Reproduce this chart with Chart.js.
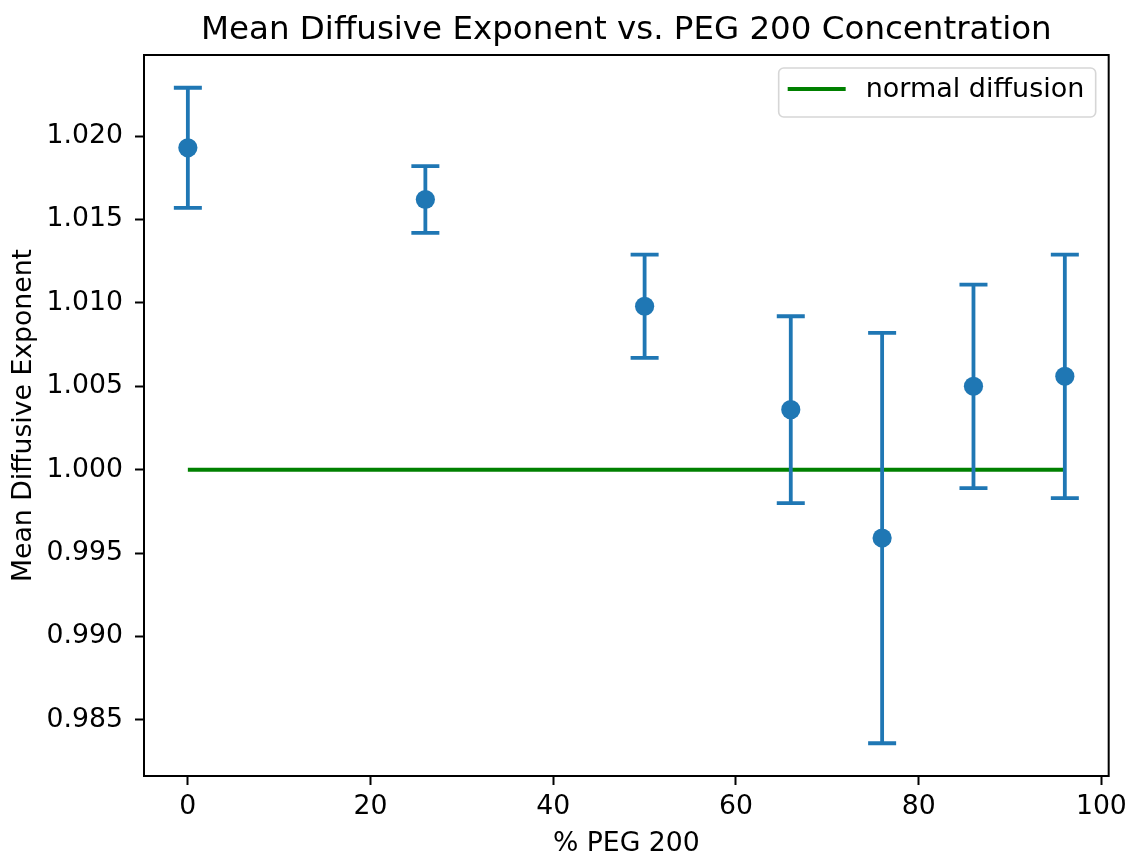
<!DOCTYPE html>
<html>
<head>
<meta charset="utf-8">
<script src="https://cdn.jsdelivr.net/npm/chart.js@4.4.1/dist/chart.umd.min.js"></script>
<style>
  html, body { margin: 0; padding: 0; background: #fff; }
  #wrap { width: 1133px; height: 857px; }
</style>
</head>
<body>
<div id="wrap"><canvas id="diffChart" width="1133" height="857"></canvas></div>
<script>
// data
const pegPercent = [0, 26, 50, 66, 76, 86, 96];
const meanExponent = [1.0193, 1.0162, 1.0098, 1.0036, 0.9959, 1.0050, 1.0056];
const exponentErr = [0.0036, 0.0020, 0.0031, 0.0056, 0.0123, 0.0061, 0.0073];
const normalLineX = [0, 96];
const normalLineY = [1.0, 1.0];
const xTicks = [0, 20, 40, 60, 80, 100];
const yTicks = [0.985, 0.990, 0.995, 1.000, 1.005, 1.010, 1.015, 1.020];

const blue = "#1f77b4";
const green = "#008000";
const fontFamily = "'DejaVu Sans', sans-serif";
const titleText = "Mean Diffusive Exponent vs. PEG 200 Concentration";

// matplotlib style 5% margins
const xLo = Math.min(...pegPercent), xHi = Math.max(...pegPercent);
const yLo = Math.min(...meanExponent.map((v, i) => v - exponentErr[i]));
const yHi = Math.max(...meanExponent.map((v, i) => v + exponentErr[i]));
const xPad = (xHi - xLo) * 0.05, yPad = (yHi - yLo) * 0.05;

// error bars, drawn right after the green line so markers sit on top
const errorBars = {
    id: "errorBars",
    afterDatasetDraw(chart, args) {
        if (args.index !== 0) return;
        const ctx = chart.ctx;
        const xs = chart.scales.x, ys = chart.scales.y;
        ctx.save();
        ctx.strokeStyle = blue;
        ctx.lineWidth = 3.8;
        ctx.lineCap = "butt";
        pegPercent.forEach((p, i) => {
            const px = xs.getPixelForValue(p);
            const top = ys.getPixelForValue(meanExponent[i] + exponentErr[i]);
            const bot = ys.getPixelForValue(meanExponent[i] - exponentErr[i]);
            ctx.beginPath();
            ctx.moveTo(px, top);
            ctx.lineTo(px, bot);
            ctx.moveTo(px - 14, top);
            ctx.lineTo(px + 14, top);
            ctx.moveTo(px - 14, bot);
            ctx.lineTo(px + 14, bot);
            ctx.stroke();
        });
        ctx.restore();
    }
};

// title over the plot area, axes frame and legend box
const frameAndLegend = {
    id: "frameAndLegend",
    afterDraw(chart) {
        const ctx = chart.ctx;
        const a = chart.chartArea;
        ctx.save();
        ctx.fillStyle = "#000";
        ctx.font = "32.5px " + fontFamily;
        ctx.textAlign = "center";
        ctx.textBaseline = "alphabetic";
        ctx.fillText(titleText, (a.left + a.right) / 2, 39);

        ctx.strokeStyle = "#000";
        ctx.lineWidth = 2;
        ctx.strokeRect(a.left, a.top, a.right - a.left, a.bottom - a.top);

        // legend
        const bx = a.right - 330, by = a.top + 13, bw = 317, bh = 49;
        ctx.beginPath();
        ctx.roundRect(bx, by, bw, bh, 5);
        ctx.fillStyle = "rgba(255,255,255,0.8)";
        ctx.fill();
        ctx.strokeStyle = "#d6d6d6";
        ctx.lineWidth = 1.6;
        ctx.stroke();
        ctx.strokeStyle = green;
        ctx.lineWidth = 4;
        ctx.beginPath();
        ctx.moveTo(bx + 9, by + 21);
        ctx.lineTo(bx + 67, by + 21);
        ctx.stroke();
        ctx.fillStyle = "#000";
        ctx.font = "27px " + fontFamily;
        ctx.textAlign = "left";
        ctx.textBaseline = "middle";
        ctx.fillText(chart.data.datasets[0].label, bx + 87, by + 22);
        ctx.restore();
    }
};

new Chart(document.getElementById("diffChart"), {
    type: "scatter",
    data: {
        datasets: [
            {
                label: "normal diffusion",
                type: "line",
                data: normalLineX.map((x, i) => ({ x: x, y: normalLineY[i] })),
                borderColor: green,
                borderWidth: 4,
                pointRadius: 0,
                order: 2
            },
            {
                label: "mean exponent",
                data: pegPercent.map((x, i) => ({ x: x, y: meanExponent[i] })),
                backgroundColor: blue,
                borderWidth: 0,
                pointRadius: 9.6,
                order: 1
            }
        ]
    },
    options: {
        responsive: false,
        animation: false,
        layout: { padding: { left: 0, right: 21, top: 55, bottom: 0 } },
        plugins: {
            legend: { display: false },
            tooltip: { enabled: false },
            title: { display: false }
        },
        scales: {
            x: {
                type: "linear",
                min: xLo - xPad,
                max: xHi + xPad,
                afterBuildTicks: axis => { axis.ticks = xTicks.map(v => ({ value: v })); },
                afterFit: axis => { axis.height = 81; },
                grid: { drawOnChartArea: false, drawTicks: true, tickLength: 9, tickWidth: 2, tickColor: "#000" },
                border: { display: false },
                ticks: {
                    color: "#000",
                    padding: 6,
                    maxRotation: 0,
                    font: { family: fontFamily, size: 26.7 },
                    callback: v => String(v)
                },
                title: {
                    display: true,
                    text: "% PEG 200",
                    color: "#000",
                    font: { family: fontFamily, size: 26.7, lineHeight: 1 },
                    padding: { top: 0, bottom: 0 }
                }
            },
            y: {
                type: "linear",
                min: yLo - yPad,
                max: yHi + yPad,
                afterBuildTicks: axis => { axis.ticks = yTicks.map(v => ({ value: v })); },
                afterFit: axis => { axis.width = 144; },
                grid: { drawOnChartArea: false, drawTicks: true, tickLength: 9, tickWidth: 2, tickColor: "#000" },
                border: { display: false },
                ticks: {
                    color: "#000",
                    padding: 12,
                    font: { family: fontFamily, size: 26.7 },
                    callback: v => v.toFixed(3)
                },
                title: {
                    display: true,
                    text: "Mean Diffusive Exponent",
                    color: "#000",
                    font: { family: fontFamily, size: 26.7, lineHeight: 1 },
                    padding: { top: 11, bottom: 0 }
                }
            }
        }
    },
    plugins: [errorBars, frameAndLegend]
});
</script>
</body>
</html>
